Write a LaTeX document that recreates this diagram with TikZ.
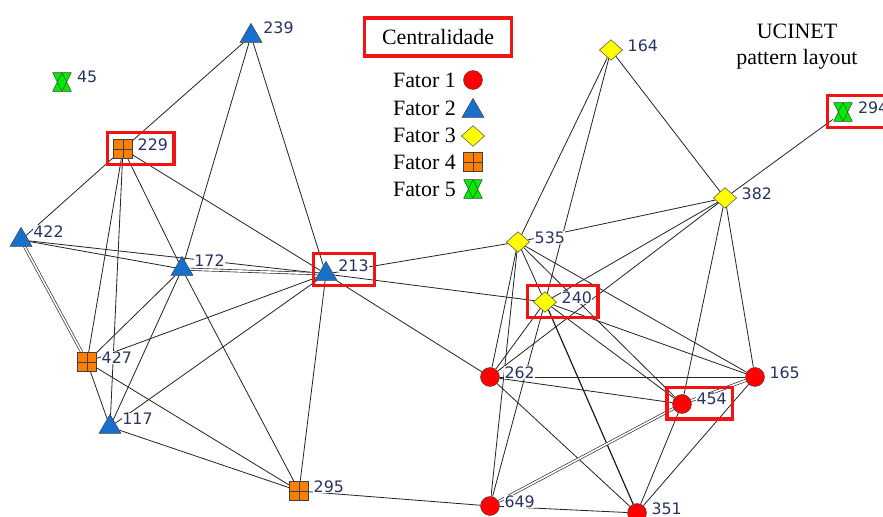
\documentclass[tikz,border=0pt]{standalone}
\usepackage{fontspec}
\setmainfont{Liberation Serif}
\newfontfamily\numfont{DejaVu Sans}
\usetikzlibrary{shapes.geometric,fit,backgrounds}
\definecolor{fred}{RGB}{255,0,0}
\definecolor{fblue}{RGB}{22,112,204}
\definecolor{fyellow}{RGB}{255,255,0}
\definecolor{forange}{RGB}{255,128,0}
\definecolor{fgreen}{RGB}{0,235,0}
\definecolor{numtext}{RGB}{40,52,96}
\definecolor{hlred}{RGB}{240,20,20}
\tikzstyle{fator1} = [circle, draw=black!75, fill=fred, minimum size=0.57cm, inner sep=0pt]
\tikzstyle{fator2} = [regular polygon, regular polygon sides=3, draw=black!75, fill=fblue,
    minimum size=0.76cm, inner sep=0pt]
\tikzstyle{fator3} = [diamond, draw=black!75, fill=fyellow, minimum width=0.7cm,
    minimum height=0.62cm, inner sep=0pt]
\tikzstyle{fator4} = [rectangle, draw=black!75, fill=forange, minimum size=0.58cm, inner sep=0pt,
    path picture={\draw[black!75] (path picture bounding box.north) -- (path picture bounding box.south)
        (path picture bounding box.west) -- (path picture bounding box.east);}]
\tikzstyle{fator5} = [rectangle, minimum size=0.6cm, inner sep=0pt,
    path picture={
      \fill[fgreen] ([xshift=0.6pt,yshift=-0.6pt]path picture bounding box.north west)
        -- ([xshift=-0.6pt,yshift=-0.6pt]path picture bounding box.north east)
        -- ([yshift=0.6pt]path picture bounding box.south) -- cycle;
      \fill[fgreen] ([xshift=0.6pt,yshift=0.6pt]path picture bounding box.south west)
        -- ([xshift=-0.6pt,yshift=0.6pt]path picture bounding box.south east)
        -- ([yshift=-0.6pt]path picture bounding box.north) -- cycle;
      \draw[black!75, line join=round] ([xshift=0.6pt,yshift=-0.6pt]path picture bounding box.north west)
        -- ([xshift=-0.6pt,yshift=-0.6pt]path picture bounding box.north east)
        -- ([yshift=0.6pt]path picture bounding box.south) -- cycle
        ([xshift=0.6pt,yshift=0.6pt]path picture bounding box.south west)
        -- ([xshift=-0.6pt,yshift=0.6pt]path picture bounding box.south east)
        -- ([yshift=-0.6pt]path picture bounding box.north) -- cycle;}]
\tikzstyle{num} = [font=\numfont\fontsize{13.5}{13.5}\selectfont, text=numtext, fill=white,
    inner sep=0.4pt, xshift=3.5pt, yshift=4pt]
\tikzstyle{hl} = [draw=hlred, line width=2.8pt, inner sep=4.5pt]
\tikzstyle{legtext} = [font=\fontsize{18.7}{22}\selectfont, inner sep=0pt]
\tikzstyle{line} = [draw, black!85, line width=0.7pt]
\tikzstyle{dline} = [draw, black!85, line width=0.55pt, double=white, double distance=1.4pt]
\tikzstyle{hline} = [draw, black!90, line width=1pt]

\begin{document}
\begin{tikzpicture}[x=0.03cm, y=-0.03cm]
    \useasboundingbox (0,0) rectangle (883,517);

    % Place nodes (left group)
    \node [fator2, label={[num, yshift=3pt, name=l239]right:239}] (n239) at (251,36) {};
    \node [fator5, label={[num, name=l45]right:45}] (n45) at (62,82) {};
    \node [fator4, label={[num, name=l229]right:229}] (n229) at (123,149) {};
    \node [fator2, label={[num, yshift=3pt, name=l422]right:422}] (n422) at (21,240) {};
    \node [fator2, label={[num, yshift=3pt, name=l172]right:172}] (n172) at (182,269) {};
    \node [fator2, label={[num, yshift=3pt, name=l213]right:213}] (n213) at (326,274) {};
    \node [fator4, label={[num, name=l427]right:427}] (n427) at (87,362) {};
    \node [fator2, label={[num, yshift=3pt, name=l117]right:117}] (n117) at (110,427) {};
    \node [fator4, label={[num, name=l295]right:295}] (n295) at (299,491) {};

    % Place nodes (right group)
    \node [fator3, label={[num, name=l164]right:164}] (n164) at (611,50) {};
    \node [fator5, label={[num, name=l294]right:294}] (n294) at (843,112) {};
    \node [fator3, label={[num, name=l382]right:382}] (n382) at (725,198) {};
    \node [fator3, label={[num, name=l535]right:535}] (n535) at (518,242) {};
    \node [fator3, label={[num, name=l240]right:240}] (n240) at (545,302) {};
    \node [fator1, label={[num, name=l262]right:262}] (n262) at (490,377) {};
    \node [fator1, label={[num, name=l165]right:165}] (n165) at (755,377) {};
    \node [fator1, label={[num, name=l454]right:454}] (n454) at (682,404) {};
    \node [fator1, label={[num, name=l649]right:649}] (n649) at (490,506) {};
    \node [fator1, label={[num, name=l351]right:351}] (n351) at (637,513) {};

    % Highlight boxes
    \node [hl, fit=(n229)(l229)] (h229) {};
    \node [hl, fit=(n213)(l213)] (h213) {};
    \node [hl, fit=(n240)(l240)] (h240) {};
    \node [hl, fit=(n454)(l454)] (h454) {};
    \node [hl, fit=(n294)(l294)] (h294) {};

    % Legend
    \node [hl, legtext, minimum width=4.4cm, minimum height=1.14cm] (cent) at (438,37) {Centralidade};
    \node [legtext, anchor=east] (fat1) at (456,80) {Fator 1};
    \node [legtext, anchor=east] (fat2) at (456,108) {Fator 2};
    \node [legtext, anchor=east] (fat3) at (456,135) {Fator 3};
    \node [legtext, anchor=east] (fat4) at (456,162) {Fator 4};
    \node [legtext, anchor=east] (fat5) at (456,189) {Fator 5};
    \node [fator1] (sym1) at (473,80) {};
    \node [fator2] (sym2) at (473,111) {};
    \node [fator3] (sym3) at (473,136) {};
    \node [fator4] (sym4) at (473,162) {};
    \node [fator5] (sym5) at (473,189) {};
    \node [legtext, align=center] (ucinet) at (797,47) {UCINET\\pattern layout};

    % Draw edges
    \begin{pgfonlayer}{background}
    \path [line] (n239) -- (n229);
    \path [line] (n239) -- (n172);
    \path [line] (n239) -- (n213);
    \path [line] (n229) -- (n422);
    \path [line] (n229) -- (n427);
    \path [line] (n229) -- (n117);
    \path [line] (n229) -- (n172);
    \path [line] (n229) -- (n213);
    \path [line] (n422) -- (n172);
    \path [line] (n422) -- (n213);
    \path [dline] (n422) -- (n427);
    \path [line] (n427) -- (n117);
    \path [dline] (n172) -- (n213);
    \path [line] (n172) -- (n117);
    \path [line] (n172) -- (n427);
    \path [line] (n172) -- (n295);
    \path [line] (n213) -- (n427);
    \path [line] (n213) -- (n117);
    \path [line] (n213) -- (n295);
    \path [line] (n427) -- (n295);
    \path [line] (n117) -- (n295);
    \path [line] (n295) -- (n649);
    \path [line] (n213) -- (n535);
    \path [line] (n213) -- (n240);
    \path [line] (n213) -- (n262);
    \path [line] (n164) -- (n535);
    \path [line] (n164) -- (n240);
    \path [line] (n164) -- (n382);
    \path [line] (n382) -- (n294);
    \path [line] (n382) -- (n535);
    \path [line] (n382) -- (n240);
    \path [line] (n382) -- (n262);
    \path [line] (n382) -- (n454);
    \path [line] (n382) -- (n165);
    \path [line] (n535) -- (n240);
    \path [line] (n535) -- (n262);
    \path [line] (n535) -- (n649);
    \path [line] (n535) -- (n165);
    \path [line] (n535) -- (n454);
    \path [line] (n240) -- (n262);
    \path [line] (n240) -- (n649);
    \path [line] (n240) -- (n165);
    \path [line] (n240) -- (n454);
    \path [hline] (n240) -- (n351);
    \path [line] (n262) -- (n165);
    \path [line] (n262) -- (n454);
    \path [dline] (n262) -- (n649);
    \path [line] (n262) -- (n351);
    \path [line] (n649) -- (n351);
    \path [dline] (n649) -- (n454);
    \path [dline] (n454) -- (n165);
    \path [line] (n454) -- (n351);
    \path [line] (n165) -- (n351);
    \end{pgfonlayer}
\end{tikzpicture}
\end{document}
